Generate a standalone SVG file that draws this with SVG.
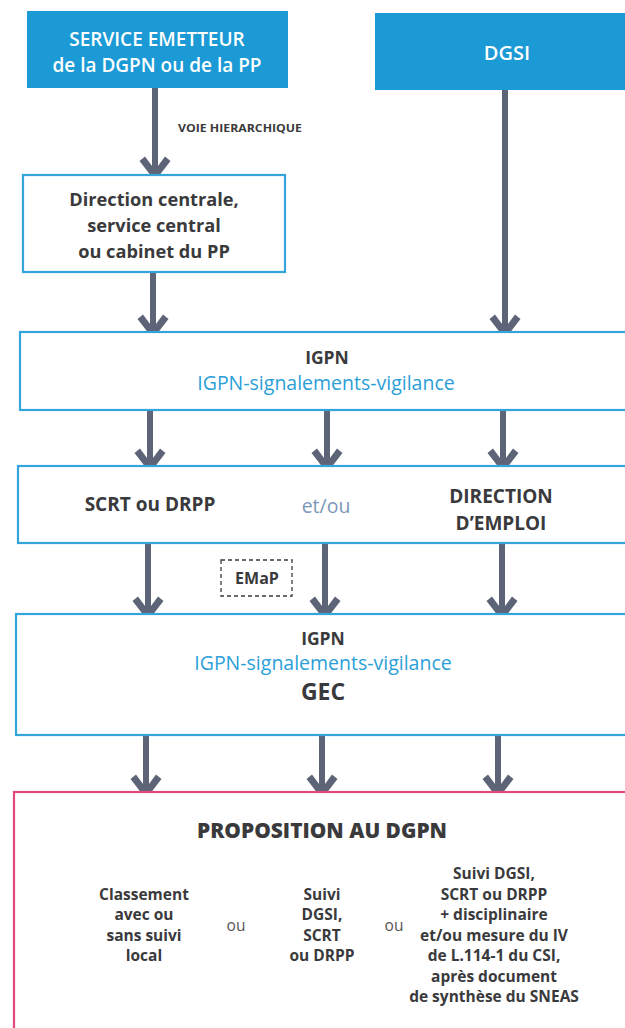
<svg xmlns="http://www.w3.org/2000/svg" width="625" height="1028" viewBox="0 0 625 1028">
<defs>
<style>
.t{font-family:"Open Sans","Noto Sans",sans-serif;text-anchor:middle}
.w{fill:#ffffff;font-weight:600}
.d{fill:#3a3a3c}
.b{font-weight:700}
.bl{fill:#2a9fd8}
.fill{fill:#1c9ad6}
.box{fill:#ffffff;stroke:#34a5da;stroke-width:2.2}
.pink{fill:#ffffff;stroke:#e0487e;stroke-width:2.2}
.arr{stroke:#5d6477;stroke-width:6;fill:none;marker-end:url(#chev)}
</style>
<marker id="chev" markerUnits="userSpaceOnUse" viewBox="-27 -18 29 36" refX="-8" refY="0" markerWidth="29" markerHeight="36" orient="auto" overflow="visible">
<polygon points="0,0 -20,-15.5 -24.5,-10 -11,0 -24.5,10 -20,15.5" fill="#5d6477"/>
</marker>
</defs>
<rect width="625" height="1028" fill="#ffffff"/>

<g id="connectors">
<path class="arr" d="M155 88 V173"/>
<path class="arr" d="M153 272 V331"/>
<path class="arr" d="M505 90 V331"/>
<path class="arr" d="M150 410 V465"/>
<path class="arr" d="M327 410 V465"/>
<path class="arr" d="M503 410 V465"/>
<path class="arr" d="M148 544 V613"/>
<path class="arr" d="M325 544 V613"/>
<path class="arr" d="M502 544 V613"/>
<path class="arr" d="M146 735 V791"/>
<path class="arr" d="M322 735 V791"/>
<path class="arr" d="M498 735 V791"/>
</g>

<g id="label-voie">
<text class="t d b" x="240" y="132" font-size="10" textLength="124" lengthAdjust="spacingAndGlyphs">VOIE HIERARCHIQUE</text>
</g>

<g id="service-emetteur">
<rect class="fill" x="27" y="11" width="261" height="77"/>
<text class="t w" x="157" y="45.5" font-size="19">SERVICE EMETTEUR</text>
<text class="t w" x="157" y="71.5" font-size="19">de la DGPN ou de la PP</text>
</g>

<g id="dgsi">
<rect class="fill" x="375" y="13" width="255" height="77"/>
<text class="t w" x="507" y="60" font-size="20">DGSI</text>
</g>

<g id="direction-centrale">
<rect class="box" x="23" y="175" width="262" height="97"/>
<text class="t d b" x="154" y="206" font-size="18.2">Direction centrale,</text>
<text class="t d b" x="154" y="232" font-size="18.2">service central</text>
<text class="t d b" x="154" y="258" font-size="18.2">ou cabinet du PP</text>
</g>

<g id="igpn-1">
<rect class="box" x="20" y="332" width="612" height="78"/>
<text class="t d b" x="327" y="364" font-size="17.5">IGPN</text>
<text class="t bl" x="326" y="390" font-size="19.5">IGPN-signalements-vigilance</text>
</g>

<g id="scrt-direction">
<rect class="box" x="18" y="466" width="614" height="77"/>
<text class="t d b" x="150" y="511" font-size="19">SCRT ou DRPP</text>
<text class="t" x="326" y="513" font-size="19.5" fill="#7b97b8">et/ou</text>
<text class="t d b" x="501" y="503" font-size="19">DIRECTION</text>
<text class="t d b" x="501" y="530" font-size="19">D’EMPLOI</text>
</g>

<g id="emap">
<rect x="221" y="560" width="71" height="36" fill="none" stroke="#3a3a3c" stroke-width="1.3" stroke-dasharray="4 3"/>
<text class="t d b" x="257" y="584" font-size="16">EMaP</text>
</g>

<g id="igpn-gec">
<rect class="box" x="16" y="614" width="616" height="121"/>
<text class="t d b" x="323" y="645" font-size="17.5">IGPN</text>
<text class="t bl" x="323" y="670" font-size="19.5">IGPN-signalements-vigilance</text>
<text class="t d b" x="323" y="700" font-size="23">GEC</text>
</g>

<g id="proposition">
<rect class="pink" x="14" y="792" width="618" height="245"/>
<text class="t d" x="322" y="838" font-size="21" font-weight="900" textLength="250" lengthAdjust="spacingAndGlyphs">PROPOSITION AU DGPN</text>
<g class="t d b" font-size="15.5">
<text x="144" y="899.5">Classement</text>
<text x="144" y="920">avec ou</text>
<text x="144" y="940.5">sans suivi</text>
<text x="144" y="961">local</text>
<text x="322" y="899.5">Suivi</text>
<text x="322" y="920">DGSI,</text>
<text x="322" y="940.5">SCRT</text>
<text x="322" y="961">ou DRPP</text>
<text x="494" y="879">Suivi DGSI,</text>
<text x="494" y="899.5">SCRT ou DRPP</text>
<text x="494" y="920">+ disciplinaire</text>
<text x="494" y="940.5">et/ou mesure du IV</text>
<text x="494" y="961">de L.114-1 du CSI,</text>
<text x="494" y="981.5">après document</text>
<text x="494" y="1002">de synthèse du SNEAS</text>
</g>
<text class="t" x="236" y="931" font-size="15.5" fill="#555558">ou</text>
<text class="t" x="394" y="931" font-size="15.5" fill="#555558">ou</text>
</g>
</svg>
